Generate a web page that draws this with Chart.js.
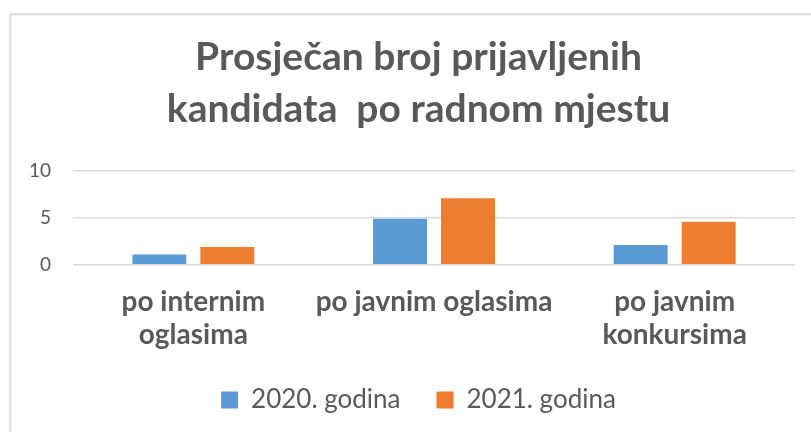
<!DOCTYPE html>
<html>
<head>
<meta charset="utf-8">
<script src="https://cdn.jsdelivr.net/npm/chart.js@4"></script>
<style>
  html, body { margin: 0; padding: 0; background: #fff; overflow: hidden; }
  #wrap { position: absolute; left: 0; top: 0; width: 834px; height: 432px; }
</style>
</head>
<body>
<div id="wrap"><canvas id="chart" width="834" height="432"></canvas></div>
<script>
const categories = [["po internim", "oglasima"], "po javnim oglasima", ["po javnim", "konkursima"]];
const seriesNames = ["2020. godina", "2021. godina"];
const values2020 = [1.1, 4.9, 2.1];
const values2021 = [1.9, 7.1, 4.6];
const yTicks = [0, 5, 10];

const textColor = "#595959";

// light frame on the left and top, like the original chart border
const framePlugin = {
	id: "frame",
	beforeDraw(chart) {
		const ctx = chart.ctx;
		ctx.save();
		ctx.strokeStyle = "#d9d9d9";
		ctx.lineWidth = 2;
		ctx.beginPath();
		ctx.moveTo(10.3, 432);
		ctx.lineTo(10.3, 14.2);
		ctx.lineTo(834, 14.2);
		ctx.stroke();
		ctx.restore();
	},
};

const data = {
	labels: categories,
	datasets: [
		{
			label: seriesNames[0],
			data: values2020,
			backgroundColor: "#5b9bd5",
		},
		{
			label: seriesNames[1],
			data: values2021,
			backgroundColor: "#ed7d31",
		},
	],
};

const options = {
	responsive: false,
	animation: false,
	layout: {
		padding: { top: 14, left: 42, right: 39, bottom: 9 },
	},
	datasets: {
		bar: {
			categoryPercentage: 0.565,
			barPercentage: 0.794,
		},
	},
	plugins: {
		title: {
			display: true,
			text: ["Prosječan broj prijavljenih", "kandidata  po radnom mjestu"],
			color: textColor,
			font: { family: "Lato", size: 39, weight: "bold", lineHeight: "52px" },
			padding: { top: 17, bottom: 36 },
		},
		legend: {
			display: true,
			position: "bottom",
			labels: {
				color: textColor,
				font: { family: "Lato", size: 26 },
				boxWidth: 17,
				boxHeight: 17,
				padding: 36,
			},
		},
		tooltip: { enabled: false },
	},
	scales: {
		x: {
			grid: { display: false, drawTicks: false },
			border: { display: false },
			ticks: {
				color: textColor,
				font: { family: "Lato", size: 28, weight: "bold", lineHeight: 1.2 },
				padding: 20,
				maxRotation: 0,
			},
			afterFit(scale) {
				scale.height -= 21;
			},
		},
		y: {
			min: yTicks[0],
			max: yTicks[yTicks.length - 1],
			grid: { color: "#d9d9d9", lineWidth: 1.5, drawTicks: false },
			border: { display: false },
			ticks: {
				stepSize: 5,
				color: textColor,
				font: { family: "Lato", size: 19 },
				// mirrored so the labels are not clipped, then pulled back left of the plot
				mirror: true,
				crossAlign: "far",
				padding: -44,
			},
			afterFit(scale) {
				scale.width = 31;
			},
		},
	},
};

new Chart(document.getElementById("chart"), {
	type: "bar",
	data,
	options,
	plugins: [framePlugin],
});
</script>
</body>
</html>
